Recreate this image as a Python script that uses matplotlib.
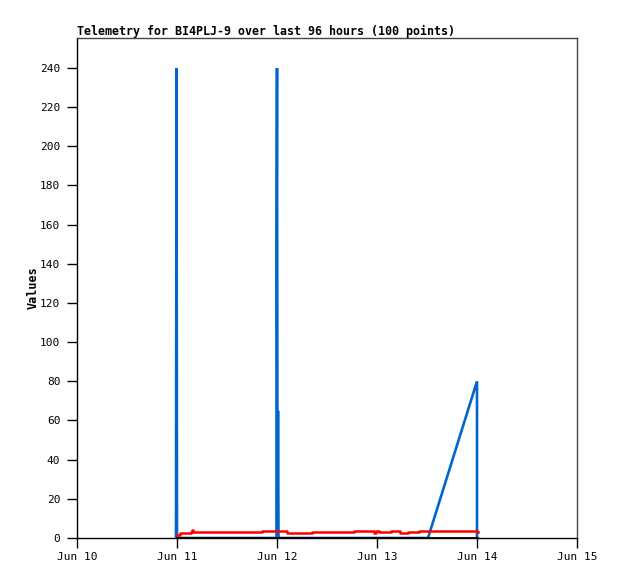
import matplotlib
matplotlib.use("Agg")
import matplotlib.pyplot as plt
import numpy as np

# aika päivinä (kesäkuun päivä), arvot luettu kuvasta
sininen_t = [10.99, 10.995, 11.0, 11.995, 11.995, 12.0, 12.005, 12.01, 12.015, 12.02, 13.51, 14.0, 14.0]
sininen_y = [0, 240, 0, 0, 145, 240, 0, 65, 0, 0, 0, 80, 0]

punainen_t = [11.0, 11.03, 11.14, 11.15, 11.16, 11.52, 11.85, 12.1, 12.35, 12.77, 12.97, 12.99,
              13.02, 13.14, 13.23, 13.31, 13.42, 14.0, 14.01]
punainen_y = [1.7, 2.3, 3.0, 4.0, 3.0, 3.2, 3.6, 2.8, 3.1, 3.6, 2.8, 3.6,
              3.1, 3.7, 2.8, 3.2, 3.6, 3.3, 3.3]

musta_t = [11.0, 14.0]
musta_y = [0, 0]

xtikit = [10, 11, 12, 13, 14, 15]
xnimet = ["Jun 10", "Jun 11", "Jun 12", "Jun 13", "Jun 14", "Jun 15"]
ytikit = list(range(0, 241, 20))

plt.rcParams['font.family'] = ['DejaVu Sans Mono']
fig = plt.figure(figsize=(6.18, 5.79), dpi=100)
ax = fig.add_axes([77/618, 41/579, 500/618, 500/579])

ax.plot(sininen_t, sininen_y, color="#0066cc", lw=1.9, solid_joinstyle='miter')
ax.plot(punainen_t, punainen_y, color="#ff0000", lw=1.8, drawstyle='steps-post')
ax.plot(musta_t, musta_y, color="black", lw=2.0)

ax.set_xlim(10, 15)
ax.set_ylim(0, 255.3)
ax.set_xticks(xtikit)
ax.set_xticklabels(xnimet, fontsize=8)
ax.set_yticks(ytikit)
ax.set_yticklabels([str(v) for v in ytikit], fontsize=8)
ax.tick_params(length=7, width=1, color="black")
ax.tick_params(axis="x", pad=3)
ax.tick_params(axis="y", pad=5)

for s in ("top", "right"):
    ax.spines[s].set_color("#444444")
for s in ("left", "bottom"):
    ax.spines[s].set_color("black")
for s in ax.spines.values():
    s.set_linewidth(1)

ax.set_ylabel("Values", fontsize=8.5, fontweight="bold", labelpad=0)
ax.set_title("Telemetry for BI4PLJ-9 over last 96 hours (100 points)",
             loc="left", fontsize=8.4, fontweight="bold", pad=2)

plt.savefig("out.png", dpi=100)
